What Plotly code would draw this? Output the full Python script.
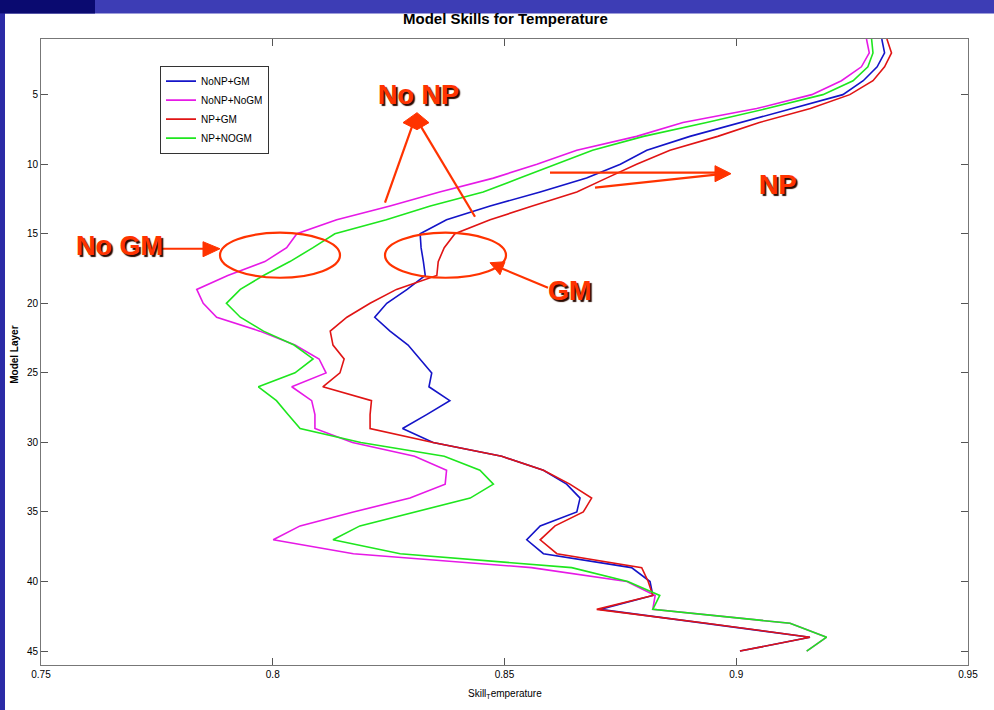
import plotly.graph_objects as go

layers = list(range(1, 46))

nonp_gm = [0.9314, 0.9320, 0.9304, 0.9274, 0.9230, 0.9120, 0.9015, 0.8900, 0.8807, 0.8750,
           0.8677, 0.8577, 0.8469, 0.8375, 0.8318, 0.8320, 0.8325, 0.8329, 0.8290, 0.8246,
           0.8220, 0.8253, 0.8292, 0.8318, 0.8343, 0.8337, 0.8382, 0.8332, 0.8280, 0.8346,
           0.8494, 0.8584, 0.8634, 0.8663, 0.8656, 0.8577, 0.8548, 0.8584, 0.8774, 0.8814,
           0.8820, 0.8706, 0.8935, 0.9159, 0.9008]

nonp_nogm = [0.9281, 0.9287, 0.9270, 0.9227, 0.9163, 0.9044, 0.8885, 0.8785, 0.8656, 0.8570,
             0.8476, 0.8360, 0.8253, 0.8138, 0.8052, 0.8030, 0.7983, 0.7903, 0.7836, 0.7850,
             0.7879, 0.7972, 0.8048, 0.8100, 0.8115, 0.8041, 0.8084, 0.8091, 0.8091, 0.8172,
             0.8306, 0.8375, 0.8372, 0.8296, 0.8174, 0.8059, 0.8001, 0.8174, 0.8558, 0.8764,
             0.8825, 0.8820, 0.9116, 0.9195, 0.9152]

np_gm = [0.9325, 0.9335, 0.9320, 0.9295, 0.9245, 0.9160, 0.9050, 0.8960, 0.8857, 0.8785,
         0.8720, 0.8656, 0.8560, 0.8469, 0.8393, 0.8370, 0.8357, 0.8354, 0.8267, 0.8210,
         0.8160, 0.8124, 0.8130, 0.8154, 0.8145, 0.8108, 0.8213, 0.8210, 0.8210, 0.8346,
         0.8494, 0.8584, 0.8641, 0.8688, 0.8670, 0.8609, 0.8577, 0.8613, 0.8796, 0.8810,
         0.8820, 0.8699, 0.8935, 0.9159, 0.9008]

np_nogm = [0.9292, 0.9295, 0.9284, 0.9252, 0.9187, 0.9066, 0.8936, 0.8800, 0.8690, 0.8613,
           0.8533, 0.8454, 0.8340, 0.8245, 0.8134, 0.8087, 0.8037, 0.7980, 0.7930, 0.7900,
           0.7930, 0.7980, 0.8046, 0.8087, 0.8048, 0.7969, 0.8008, 0.8033, 0.8059, 0.8190,
           0.8370, 0.8447, 0.8476, 0.8426, 0.8310, 0.8188, 0.8130, 0.8275, 0.8645, 0.8766,
           0.8835, 0.8820, 0.9116, 0.9195, 0.9152]

series_names = ["NoNP+GM", "NoNP+NoGM", "NP+GM", "NP+NOGM"]
series_values = [nonp_gm, nonp_nogm, np_gm, np_nogm]
series_colors = ["#1414C8", "#E619E6", "#E01414", "#1EE61E"]

x_ticks = [0.75, 0.8, 0.85, 0.9, 0.95]
x_ticktext = ["0.75", "0.8", "0.85", "0.9", "0.95"]
y_ticks = [5, 10, 15, 20, 25, 30, 35, 40, 45]

W, H = 994, 710
PL, PR, PT, PB = 41, 968, 39.4, 665


def px(x):
    return (x - PL) / (PR - PL)


def py(y):
    return (PB - y) / (PB - PT)


fig = go.Figure()
for name, vals, col in zip(series_names, series_values, series_colors):
    fig.add_trace(go.Scatter(x=vals, y=layers, mode="lines", name=name,
                             line=dict(color=col, width=1.6)))

ORANGE = "#FF3300"
shapes = []
# slide decoration: left strip and top band
shapes.append(dict(type="rect", xref="paper", yref="paper", x0=px(0), x1=px(5), y0=py(H), y1=py(0),
                   fillcolor="#2B2BA6", line=dict(width=0), layer="below"))
shapes.append(dict(type="rect", xref="paper", yref="paper", x0=px(0), x1=px(W), y0=py(14), y1=py(0),
                   fillcolor="#3D3DB5", line=dict(width=0), layer="below"))
shapes.append(dict(type="rect", xref="paper", yref="paper", x0=px(0), x1=px(95), y0=py(14), y1=py(0),
                   fillcolor="#0A0A70", line=dict(width=0), layer="below"))


def line(x0, y0, x1, y1, w=2.2):
    shapes.append(dict(type="line", xref="paper", yref="paper", x0=px(x0), y0=py(y0), x1=px(x1), y1=py(y1),
                       line=dict(color=ORANGE, width=w)))


def tri(pts):
    p = "M " + " L ".join(f"{px(a):.5f},{py(b):.5f}" for a, b in pts) + " Z"
    shapes.append(dict(type="path", xref="paper", yref="paper", path=p, fillcolor=ORANGE,
                       line=dict(color=ORANGE, width=1)))


def ellipse(x0, y0, x1, y1):
    shapes.append(dict(type="circle", xref="paper", yref="paper", x0=px(x0), y0=py(y1), x1=px(x1), y1=py(y0),
                       line=dict(color=ORANGE, width=2.2)))


# No NP arrows
line(385, 203, 412, 127)
line(475, 217, 421, 127)
tri([(403, 123), (417, 113), (429, 123), (417, 130)])
# NP arrows
line(550, 173, 716, 173)
line(595, 188, 716, 175)
tri([(715, 166), (715, 182), (731, 174)])
# No GM arrow
line(160, 249, 205, 249)
tri([(203, 242), (203, 257), (220, 249)])
# ellipses
ellipse(220, 233, 340, 278)
ellipse(385, 233, 506, 278)
# GM arrow
line(548, 288, 500, 268)
tri([(490, 263), (505, 262), (500, 275)])

annotations = []


def label(text, x, y, size=27):
    annotations.append(dict(text=f"<b>{text}</b>", xref="paper", yref="paper", x=px(x), y=py(y),
                            xanchor="center", yanchor="middle", showarrow=False,
                            font=dict(family="Arial", size=size, color=ORANGE,
                                      shadow="2px 2px 1px #2A0A00")))


label("No NP", 418, 95)
label("NP", 778, 185)
label("No GM", 119, 246)
label("GM", 570, 291)

annotations.append(dict(text="<b>Model Skills for Temperature</b>", xref="paper", yref="paper",
                        x=px(505), y=py(19), xanchor="center", yanchor="middle", showarrow=False,
                        font=dict(family="Arial", size=15, color="black")))
annotations.append(dict(text="Skill<sub>T</sub>emperature", xref="paper", yref="paper",
                        x=px(505), y=py(694), xanchor="center", yanchor="middle", showarrow=False,
                        font=dict(family="Arial", size=10, color="black")))
annotations.append(dict(text="<b>Model Layer</b>", xref="paper", yref="paper", textangle=-90,
                        x=px(15), y=py(355), xanchor="center", yanchor="middle", showarrow=False,
                        font=dict(family="Arial", size=10, color="black")))

fig.update_layout(
    width=W, height=H,
    margin=dict(l=PL, r=W - PR, t=PT, b=H - PB, pad=0),
    paper_bgcolor="white", plot_bgcolor="white",
    shapes=shapes, annotations=annotations,
    showlegend=True,
    legend=dict(x=px(160), y=py(66), xanchor="left", yanchor="top",
                bgcolor="white", bordercolor="#333333", borderwidth=1,
                font=dict(family="Arial", size=10, color="black"),
                itemwidth=30, tracegroupgap=0),
    font=dict(family="Arial"),
)
fig.update_xaxes(range=[0.75, 0.95], tickvals=x_ticks, ticktext=x_ticktext,
                 ticks="inside", ticklen=7, tickcolor="#555555", showline=True, linecolor="#777777",
                 linewidth=1, mirror="ticks", showgrid=False, zeroline=False,
                 tickfont=dict(family="Arial", size=10, color="black"))
fig.update_yaxes(range=[46, 1], tickvals=y_ticks,
                 ticks="inside", ticklen=7, tickcolor="#555555", showline=True, linecolor="#777777",
                 linewidth=1, mirror="ticks", showgrid=False, zeroline=False,
                 tickfont=dict(family="Arial", size=10, color="black"))

fig.write_html("out.html", config={"displayModeBar": False},
               post_script="document.body.style.margin='0px';document.body.style.overflow='hidden';")
